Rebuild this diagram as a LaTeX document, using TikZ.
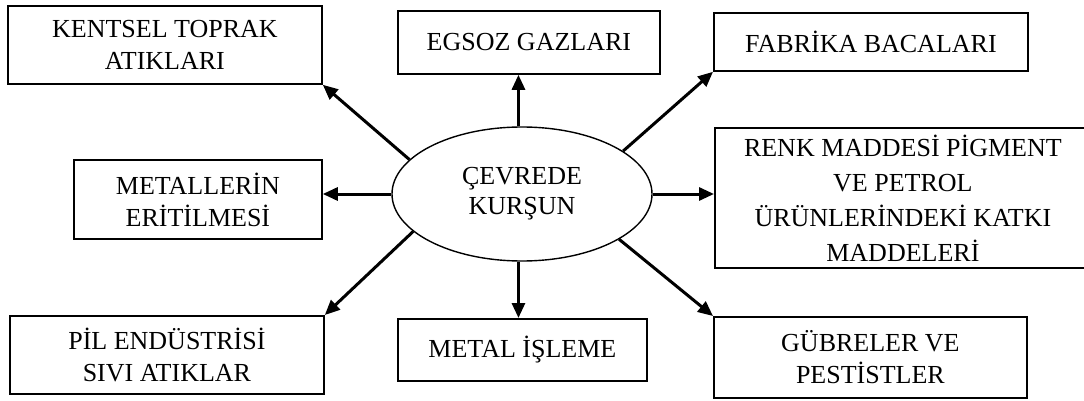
\documentclass[tikz,border=0pt]{standalone}
\usepackage{fontspec}
\setmainfont{Liberation Serif}
\usetikzlibrary{arrows.meta,shapes.geometric}
\begin{document}
\begin{tikzpicture}[x=1pt,y=-1pt,
  txt/.style={font=\fontsize{26}{32}\selectfont, align=center},
  box/.style={txt, draw, line width=1.8pt, rectangle, inner sep=0pt, anchor=north west},
  hub/.style={txt, draw, ellipse, line width=1.4pt, inner sep=0pt,
              minimum width=260pt, minimum height=134pt},
  arr/.style={line width=3pt, -{Triangle[length=15pt,width=13pt]}}]
  \useasboundingbox (0,0) rectangle (1084,401);
  \clip (0,0) rectangle (1084,401);

  % central ellipse
  \node[hub, font=\fontsize{26}{30}\selectfont] (hub) at (522,194) {ÇEVREDE\\KURŞUN};

  % surrounding sources
  \node[box, minimum width=314pt, minimum height=78pt] (kentsel) at (7,5) {KENTSEL TOPRAK\\ATIKLARI};
  \node[box, minimum width=262pt, minimum height=63pt] (egsoz) at (397,10) {EGSOZ GAZLARI};
  \node[box, minimum width=314pt, minimum height=58pt] (fabrika) at (713,12) {FABRİKA BACALARI};
  \node[box, minimum width=376pt, minimum height=140pt, font=\fontsize{26}{35}\selectfont] (renk) at (714,127)
    {RENK MADDESİ PİGMENT\\VE PETROL\\ÜRÜNLERİNDEKİ KATKI\\MADDELERİ};
  \node[box, minimum width=248pt, minimum height=79pt] (erit) at (73,159) {METALLERİN\\ERİTİLMESİ};
  \node[box, minimum width=314pt, minimum height=78pt] (pil) at (9,315) {PİL ENDÜSTRİSİ\\SIVI ATIKLAR};
  \node[box, minimum width=249pt, minimum height=62pt] (isleme) at (397,318) {METAL İŞLEME};
  \node[box, minimum width=313pt, minimum height=81pt] (gubre) at (713,316) {GÜBRELER VE\\PESTİSTLER};

  % arrows from the centre outwards
  \draw[arr] (hub.163) -- (kentsel.south east);
  \draw[arr] (hub.93) -- (hub.93 |- egsoz.south);
  \draw[arr] (hub.23) -- (fabrika.south west);
  \draw[arr] (hub.east) -- (hub.east -| renk.west);
  \draw[arr] (hub.west) -- (hub.west -| erit.east);
  \draw[arr] (hub.199.5) -- (pil.north east);
  \draw[arr] (hub.267) -- (hub.267 |- isleme.north);
  \draw[arr] (hub.335.5) -- (gubre.north west);
\end{tikzpicture}
\end{document}
